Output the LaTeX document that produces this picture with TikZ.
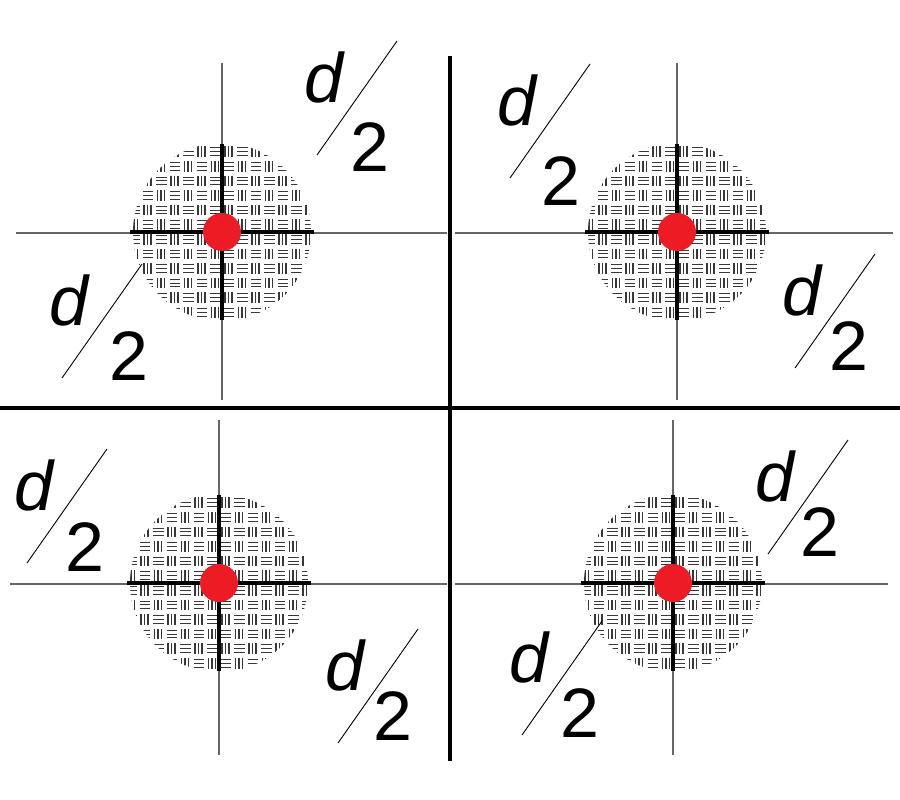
\documentclass[tikz,border=0pt]{standalone}
\usepackage{fontspec}
\setsansfont{Liberation Sans}
\usetikzlibrary{calc}
\definecolor{dotred}{RGB}{237,28,36}
\tikzset{
  bigrule/.style={line width=4.5pt},
  thinrule/.style={line width=1.4pt, black!60},
  crossrule/.style={line width=3.5pt},
  hatch/.style={line width=1.05pt, black!78},
  slashline/.style={line width=0.9pt},
  halflabel/.style={font=\sffamily\fontsize{70}{70}\selectfont, inner sep=0pt},
}
% d over 2 label: name, position of d, position of 2
\newcommand{\halfd}[3]{%
  \node[halflabel] (#1-d) at (#2) {\textit{d}};
  \node[halflabel] (#1-two) at (#3) {2};
  \coordinate (#1-s) at ($(#1-d)+(-8,78)$);
  \coordinate (#1-e) at ($(#1-d)+(72,-36)$);
  \draw[slashline] (#1-s) -- (#1-e);
}

\begin{document}
\begin{tikzpicture}[x=1pt,y=-1pt]
  \useasboundingbox (0,0) rectangle (900,800);
  % quadrant centres
  \coordinate (c1) at (222,232);
  \coordinate (c2) at (677,232);
  \coordinate (c3) at (219,583);
  \coordinate (c4) at (673,583);

  % hatched disks
  \foreach \c in {c1,c2,c3,c4} {
    \begin{scope}
      \clip (\c) circle (89pt);
      \foreach \i in {-7,...,6}
        \foreach \j in {-6,...,5} {
          \pgfmathtruncatemacro\cellodd{mod(\i+\j+14,2)}
          \ifnum\cellodd=0
            \foreach \k in {3,6.5,10}
              \draw[hatch] ($(\c)+(\i*13.5+\k,\j*14.6+2)$) -- ++(0,10.6);
          \else
            \foreach \k in {3.5,7.3,11.1}
              \draw[hatch] ($(\c)+(\i*13.5+1.5,\j*14.6+\k)$) -- ++(10.5,0);
          \fi
        }
    \end{scope}
  }

  % thin axes
  \draw[thinrule] (16,233) -- (447,233);
  \draw[thinrule] (455,233) -- (893,233);
  \draw[thinrule] (10,584) -- (447,584);
  \draw[thinrule] (455,584) -- (888,584);
  \draw[thinrule] (c1) ++(0,-169) -- ++(0,337);
  \draw[thinrule] (c2) ++(0,-169) -- ++(0,337);
  \draw[thinrule] (c3) ++(0,-163) -- ++(0,335);
  \draw[thinrule] (c4) ++(0,-163) -- ++(0,335);

  % thick crosses and dots
  \foreach \c in {c1,c2,c3,c4} {
    \draw[crossrule] ($(\c)+(-92,0)$) -- ($(\c)+(92,0)$);
    \draw[crossrule] ($(\c)+(0,-88)$) -- ($(\c)+(0,88)$);
    \fill[dotred] (\c) circle (19pt);
  }

  % quadrant separators
  \draw[bigrule] (450,56) -- (450,761);
  \draw[bigrule] (0,408) -- (900,408);

  % labels
  \halfd{la}{325,77}{370,147}
  \halfd{lb}{70,300}{129,356}
  \halfd{lc}{518,100}{561,181}
  \halfd{ld}{803,290}{849,346}
  \halfd{le}{35,485}{85,547}
  \halfd{lf}{346,665}{393,716}
  \halfd{lg}{776,476}{820,532}
  \halfd{lh}{530,657}{580,713}
\end{tikzpicture}
\end{document}
